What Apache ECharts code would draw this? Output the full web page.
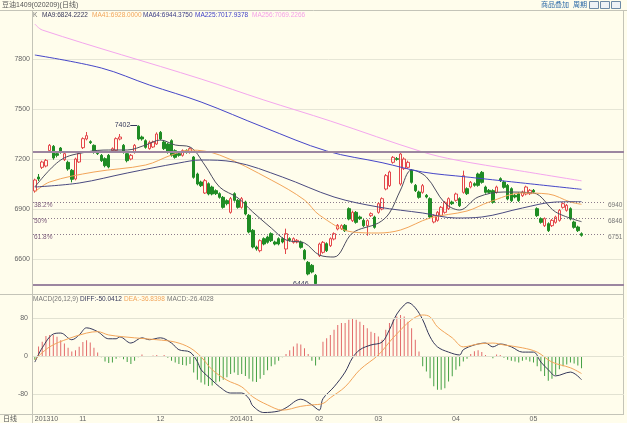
<!DOCTYPE html>
<html>
<head>
<meta charset="utf-8">
<title>豆油1409(020209)(日线)</title>
<script src="https://cdn.jsdelivr.net/npm/echarts@6.0.0/dist/echarts.min.js"></script>
<style>
html,body{margin:0;padding:0;background:#fffdec;}
#kline{width:627px;height:423px;}
</style>
</head>
<body>
<div id="kline"></div>
<script>
// K线 [开, 收, 低, 高]
var kdata = [
[7008,7074,6998,7082],[7092,7080,7068,7110],[7150,7182,7140,7190],[7158,7192,7150,7200],[7250,7282,7240,7290],
[7276,7206,7196,7284],[7232,7222,7210,7246],[7266,7240,7232,7272],[7196,7232,7188,7240],[7180,7140,7130,7190],
[7132,7078,7060,7140],[7080,7200,7072,7208],[7182,7232,7176,7240],[7268,7322,7260,7330],[7320,7340,7312,7362],
[7304,7298,7290,7312],[7282,7240,7232,7288],[7244,7232,7224,7250],[7222,7190,7182,7230],[7202,7160,7150,7210],
[7222,7152,7144,7230],[7250,7262,7240,7270],[7252,7322,7246,7330],[7320,7332,7312,7350],[7282,7240,7232,7290],
[7232,7190,7180,7238],[7200,7222,7192,7230],[7240,7282,7232,7290],[7396,7320,7312,7402],[7332,7320,7310,7340],
[7310,7270,7262,7318],[7262,7300,7256,7310],[7272,7302,7266,7310],[7290,7350,7284,7360],[7360,7320,7312,7368],
[7302,7262,7254,7310],[7290,7240,7232,7298],[7310,7222,7214,7318],[7250,7210,7202,7258],[7232,7222,7214,7240],
[7222,7250,7214,7258],[7250,7240,7232,7258],[7240,7262,7232,7270],[7212,7090,7082,7218],[7110,7050,7042,7118],
[7062,7040,7032,7070],[6996,7070,6990,7080],[7052,6990,6982,7060],[7032,6990,6982,7040],[7010,6992,6984,7018],
[6992,6970,6962,7000],[6970,6910,6902,6978],[6950,6932,6922,6958],[6880,6962,6872,6972],[6992,6952,6944,7000],
[6952,6910,6902,6960],[6910,6962,6902,6972],[6942,6870,6862,6950],[6862,6762,6754,6870],[6772,6672,6664,6780],
[6672,6660,6650,6680],[6650,6710,6640,6718],[6722,6690,6682,6730],[6732,6700,6692,6740],[6752,6710,6702,6760],
[6702,6690,6682,6710],[6722,6690,6682,6730],[6722,6702,6694,6730],[6660,6752,6630,6782],[6722,6712,6704,6730],
[6700,6722,6692,6730],[6702,6712,6694,6720],[6702,6670,6662,6710],[6652,6600,6592,6660],[6580,6510,6502,6588],
[6562,6522,6514,6570],[6502,6452,6446,6510],[6620,6690,6612,6698],[6640,6700,6632,6708],[6692,6650,6642,6700],
[6680,6722,6672,6730],[6720,6752,6712,6760],[6780,6802,6772,6810],[6782,6800,6774,6808],[6802,6770,6762,6810],
[6902,6840,6832,6910],[6830,6880,6822,6890],[6880,6820,6812,6888],[6852,6842,6834,6860],[6832,6800,6792,6840],
[6800,6830,6740,6838],[6860,6872,6852,6880],[6852,6790,6782,6860],[6880,6932,6872,6940],[6900,6962,6892,6970],
[7020,7100,7012,7110],[7040,7122,7032,7130],[7180,7210,7172,7218],[7202,7198,7190,7212],[7050,7230,7040,7246],
[7142,7200,7134,7210],[7150,7180,7142,7190],[7132,7060,7052,7140],[7042,7010,7002,7050],[7002,6970,6962,7010],
[7000,7040,6992,7050],[6982,6972,6964,6990],[6962,6852,6844,6970],[6822,6860,6814,6868],[6832,6880,6824,6888],
[6862,6910,6854,6918],[6880,6940,6872,6948],[6902,6962,6894,6970],[6942,6932,6924,6950],[6952,6990,6944,6998],
[6962,6920,6912,6970],[7000,7100,6992,7130],[7022,6992,6984,7030],[7032,7060,7024,7068],[7052,7042,7034,7060],
[7110,7042,7034,7118],[7120,7060,7052,7128],[7032,7000,6992,7040],[7012,7000,6992,7020],[7010,6940,6932,7018],
[7000,7032,6992,7040],[7082,7070,7062,7090],[7062,7030,7022,7070],[7042,6960,6952,7050],[7022,6950,6942,7030],
[6982,6972,6964,6990],[6992,6950,6942,7000],[6980,7002,6972,7010],[6990,7032,6982,7040],[6992,7012,6984,7020],
[7012,7002,6994,7020],[6902,6860,6852,6910],[6842,6820,6812,6850],[6800,6842,6792,6850],[6812,6770,6762,6820],
[6800,6832,6792,6840],[6820,6852,6812,6860],[6832,6892,6824,6900],[6910,6932,6902,6940],[6892,6922,6884,6930],
[6902,6840,6832,6910],[6822,6790,6782,6830],[6792,6770,6762,6800],[6752,6742,6734,6760]
];

// 均线 [序号, 值]
var ma9 = [[0,7032],[7,7194],[14,7242],[20,7254],[25,7254],[30,7284],[34,7314],[38,7284],[42,7272],[46,7164],
  [50,7032],[55,6966],[59,6882],[64,6786],[68,6714],[73,6696],[77,6624],[81,6612],[86,6756],[93,6816],
  [96,6876],[99,7014],[102,7134],[106,7092],[111,6936],[115,6894],[120,6972],[127,7002],[135,6996],[141,6882],[148,6824]];
var ma41 = [[0,7002],[4,7062],[16,7122],[30,7164],[37,7224],[42,7254],[50,7224],[64,7074],[73,6954],[77,6864],
  [86,6762],[93,6756],[99,6774],[107,6846],[117,6888],[123,6942],[132,6996],[139,6990],[145,6942],[148,6928]];
var ma64 = [[0,7032],[12,7056],[25,7116],[39,7176],[45,7194],[54,7182],[67,7092],[81,6972],[93,6912],[105,6876],
  [114,6846],[121,6852],[132,6906],[141,6942],[148,6944]];
var ma225 = [[0,7824],[18,7746],[31,7644],[45,7542],[62,7390],[79,7248],[94,7178],[105,7122],[117,7092],[148,7018]];
var ma256 = [[0,8010],[2,7974],[45,7680],[62,7554],[80,7428],[105,7242],[114,7194],[130,7134],[148,7069]];

// MACD
var macdBar = [
-8,20,30,42,44,44,40,33,26,17,9,12,19,29,33,28,17,7,
-3,-12,-15,-14,-6,-3,-7,-13,-17,-10,-3,3,-2,-1,1,2,-2,2,-4,-10,-14,-17,-19,-20,-17,
-35,-50,-56,-60,-63,-62,-56,-54,-50,-45,-38,-35,-40,-38,-42,-48,-54,-55,-48,-40,-30,-22,-18,-10,-3,4,12,20,26,24,16,
4,-10,-20,-8,
30,37,44,55,65,69,69,76,79,76,72,65,58,51,48,41,34,55,69,76,83,86,83,72,58,34,9,-22,-33,-47,-64,-71,-71,-68,-54,-43,-29,-22,-12,-6,
4,10,12,8,2,-2,-5,3,2,-4,-8,-10,-12,-14,-10,-8,-12,-14,-22,-32,-42,-52,-48,-40,-28,-22,-18,-14,-16,-20,-26
];
var diffLine = [[0,-13],[2,17],[5,46],[7,48],[10,34],[12,44],[14,59],[17,51],[20,36],[22,36],[23,40],[26,27],[29,38],
  [31,34],[34,38],[37,27],[39,13],[42,8],[44,-12],[45,-29],[48,-51],[50,-65],[53,-78],[56,-78],[58,-90],[59,-105],
  [62,-119],[66,-116],[68,-109],[72,-91],[75,-103],[77,-114],[78,-90],[81,-65],[84,-34],[86,-4],[88,13],[91,23],
  [94,29],[96,55],[98,88],[100,107],[101,112],[103,101],[105,76],[107,40],[109,19],[112,8],[115,2],[116,13],[119,23],
  [122,27],[124,19],[126,25],[129,19],[132,8],[135,8],[137,-13],[139,-29],[141,-42],[145,-34],[148,-50]];
var deaLine = [[0,-8],[4,19],[9,36],[14,48],[17,51],[20,44],[27,38],[33,34],[38,29],[42,17],[45,-2],[48,-29],[52,-51],
  [56,-65],[59,-86],[63,-103],[67,-114],[72,-106],[75,-103],[78,-100],[80,-88],[84,-65],[88,-29],[93,2],[97,38],
  [102,76],[105,86],[107,82],[109,61],[113,38],[116,19],[120,25],[124,27],[127,23],[132,17],[136,8],[140,-13],[145,-25],[148,-37]];

var monthStarts = [0,13,34,56,77,93,114,135];
var monthLabels = ['201310','11','12','201401','02','03','04','05'];
var priceTicks = [6600,6900,7200,7500,7800];
var macdTicks = [-80,0,80];
var topLine = 7246, bottomLine = 6446;
var fibValues = [6940,6846,6751];
var fibLabels = ['38.2%','50%','61.8%'];
var highMark = [28,7402], lowMark = [76,6446];
var slotCount = 160;

var legendTexts = ['K','MA9:6824.2222','MA41:6928.0000','MA64:6944.3750','MA225:7017.9378','MA256:7069.2266'];
var macdTexts = ['MACD(26,12,9)','DIFF:-50.0412','DEA:-36.8398','MACD:-26.4028'];

var FONT = 'Liberation Sans, Noto Sans CJK SC, sans-serif';

window.onload = function(){
    get_kline_echarts();
};

function txt(x, y, s, color, size, align){
    return {type:'text', x:x, y:y, silent:true,
        style:{text:s, fill:color, font:(size||7)+'px '+FONT, textAlign:align||'left', textVerticalAlign:'middle'}};
}
function hline(x1, x2, y, color, width, dash){
    return {type:'line', silent:true, shape:{x1:x1,y1:y,x2:x2,y2:y},
        style:{stroke:color, lineWidth:width||1, lineDash:dash||null}};
}
function vline(x, y1, y2, color){
    return {type:'line', silent:true, shape:{x1:x,y1:y1,x2:x,y2:y2}, style:{stroke:color, lineWidth:1}};
}

function get_kline_echarts() {
    var myChart = echarts.init(document.getElementById('kline'));
    var xCats = [];
    for (var i = 0; i < slotCount; i++) { xCats.push(String(i)); }

    var maLine = function(name, data, color){
        return {name:name, type:'line', xAxisIndex:0, yAxisIndex:0, data:data, smooth:0.35,
            symbol:'none', silent:true, lineStyle:{color:color, width:1}};
    };

    option = {
        backgroundColor:'#fffdec',
        animation:false,
        grid:[
            {left:33, right:3, top:9, height:300},
            {left:33, right:3, top:295, height:118}
        ],
        xAxis:[
            {type:'category', gridIndex:0, data:xCats, boundaryGap:true,
             axisLine:{show:false}, axisTick:{show:false}, axisLabel:{show:false}, splitLine:{show:false}},
            {type:'category', gridIndex:1, data:xCats, boundaryGap:true,
             axisLine:{show:false}, axisTick:{show:false}, splitLine:{show:false},
             axisLabel:{
                margin:3, color:'#666', fontSize:7, fontFamily:FONT, alignMinLabel:'left',
                interval:function(index){ return monthStarts.indexOf(index) >= 0; },
                formatter:function(v, index){
                    var k = monthStarts.indexOf(Number(v));
                    return k >= 0 ? monthLabels[k] : '';
                }
             }}
        ],
        yAxis:[
            {type:'value', gridIndex:0, min:6300, max:8100, interval:300,
             axisLine:{show:false}, axisTick:{show:false},
             axisLabel:{margin:3, color:'#666', fontSize:7, fontFamily:FONT,
                formatter:function(v){ return priceTicks.indexOf(v) >= 0 ? String(v) : ''; }},
             splitLine:{show:true, showMinLine:false, showMaxLine:false, lineStyle:{color:'#e6e6d6', width:1}}},
            {type:'value', gridIndex:1, min:-120, max:128, interval:8,
             axisLine:{show:false}, axisTick:{show:false}, splitLine:{show:false},
             axisLabel:{margin:5, color:'#666', fontSize:7, fontFamily:FONT,
                formatter:function(v){ return macdTicks.indexOf(v) >= 0 ? String(v) : ''; }}}
        ],
        series:[
            {name:'K', type:'candlestick', xAxisIndex:0, yAxisIndex:0, data:kdata, barWidth:3, silent:true,
             itemStyle:{color:'rgba(0,0,0,0)', color0:'#1f8c24', borderColor:'#e4474b', borderColor0:'#1f8c24', borderWidth:1},
             markLine:{silent:true, symbol:['none','none'], label:{show:false},
                lineStyle:{color:'#9c86a0', width:2, type:'solid'},
                data:[{yAxis:topLine},{yAxis:bottomLine}]}},
            maLine('MA9', ma9, '#4d4d60'),
            maLine('MA41', ma41, '#f2a55a'),
            maLine('MA64', ma64, '#4a4a80'),
            maLine('MA225', ma225, '#4646c8'),
            maLine('MA256', ma256, '#f4a6ee'),
            {name:'MACD', type:'bar', xAxisIndex:1, yAxisIndex:1, data:macdBar, barWidth:1, silent:true,
             itemStyle:{color:function(p){ return p.value >= 0 ? '#e26a6a' : '#44a044'; }},
             markLine:{silent:true, symbol:['none','none'], label:{show:false},
                lineStyle:{color:'#e2e2d2', width:1, type:'solid'},
                data:macdTicks.map(function(v){ return {yAxis:v}; })}},
            {name:'DIFF', type:'line', xAxisIndex:1, yAxisIndex:1, data:diffLine, smooth:0.35, symbol:'none',
             silent:true, lineStyle:{color:'#35385a', width:1}},
            {name:'DEA', type:'line', xAxisIndex:1, yAxisIndex:1, data:deaLine, smooth:0.35, symbol:'none',
             silent:true, lineStyle:{color:'#f2a55a', width:1}}
        ]
    };
    myChart.setOption(option);

    // 框线 / 文字
    var g = [];
    var frame = '#c4c4b8';
    g.push(hline(0, 627, 10.5, frame));
    g.push(vline(32.5, 10, 423, frame));
    g.push(vline(623.5, 10, 415, frame));
    g.push(hline(0, 624, 294.5, frame));
    g.push(hline(0, 624, 414.5, frame));
    g.push(txt(2, 5, '豆油1409(020209)(日线)', '#555', 7));
    g.push(txt(541, 5, '商品叠加', '#2d6aa8', 7));
    g.push(txt(573, 5, '周期', '#2d6aa8', 7));
    [589, 600, 611].forEach(function(x){
        g.push({type:'rect', silent:true, shape:{x:x+0.5, y:1.5, width:9, height:7},
            style:{fill:'#eef2f6', stroke:'#6d8aa6', lineWidth:1}});
    });

    var legColors = ['#777','#38385a','#f2a55a','#3c3c86','#3f3fc6','#f5a0e8'];
    var legX = [33, 42, 92, 143, 195, 252];
    legendTexts.forEach(function(s, i){ g.push(txt(legX[i], 15, s, legColors[i], 6.5)); });

    var macdColors = ['#777','#35385a','#f2a55a','#777'];
    var macdX = [33, 80, 124, 167];
    macdTexts.forEach(function(s, i){ g.push(txt(macdX[i], 299, s, macdColors[i], 6.5)); });

    g.push(txt(3, 419, '日线', '#555', 7));

    // 黄金分割线
    fibValues.forEach(function(v, i){
        var y = Math.round(myChart.convertToPixel({yAxisIndex:0}, v)) + 0.5;
        g.push(hline(33, 606, y, '#8c7c8c', 1, [1, 2]));
        g.push(txt(34, y + 2.5, fibLabels[i], '#7a5a7a', 6.5));
        g.push(txt(608, y + 2.5, String(v), '#777', 6.5));
    });

    // 最高 / 最低标注
    var ph = myChart.convertToPixel({xAxisIndex:0, yAxisIndex:0}, highMark);
    g.push(hline(ph[0] - 8, ph[0] - 1, Math.round(ph[1]) + 0.5, '#35385a'));
    g.push(txt(ph[0] - 8, ph[1], String(highMark[1]), '#35385a', 7, 'right'));
    var pl = myChart.convertToPixel({xAxisIndex:0, yAxisIndex:0}, lowMark);
    g.push(txt(pl[0] - 7, pl[1] - 1, String(lowMark[1]), '#35385a', 7, 'right'));

    myChart.setOption({graphic:g});
}
</script>
</body>
</html>
